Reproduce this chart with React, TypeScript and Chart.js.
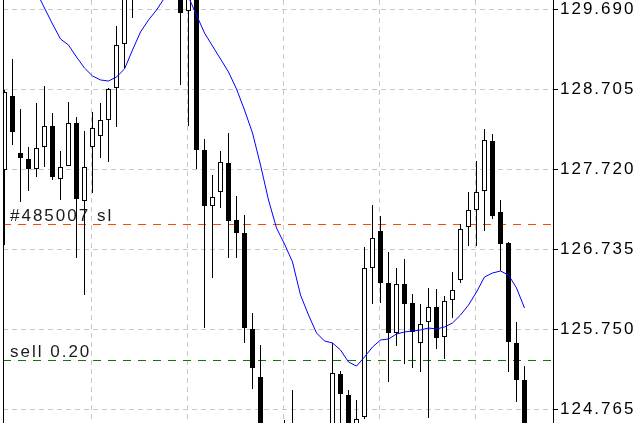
import React, { useEffect, useRef } from "react";
import { Chart, registerables } from "chart.js";

Chart.register(...registerables);

// ---- data (price values) ----
const openPrices = [
  127.712, 128.623, 127.921, 127.847, 127.724, 127.995, 128.253, 127.601, 127.761, 128.29,
  127.33, 127.995, 128.13, 128.327, 128.721, 129.263, 130.2, 129.95, 130.3, 130.55,
  130.35, 130.1, 129.95, 129.669, 129.9, 127.958, 127.268, 127.441, 127.798, 127.096,
  126.936, 125.754, 125.163, 124.45, 124.3, 124.4, 124.55, 124.45, 124.35, 124.48,
  124.4, 124.5, 125.2, 124.941, 124.5, 124.67, 126.505, 126.96, 126.32, 125.705,
  126.308, 126.074, 125.582, 125.84, 126.025, 125.655, 126.111, 126.357, 127.01, 127.219,
  127.453, 128.069, 127.194, 126.813, 125.582, 125.126,
];
const highPrices = [
  128.696, 129.078, 128.463, 127.995, 128.536, 128.746, 128.413, 127.945, 128.549, 128.364,
  128.192, 128.426, 128.536, 128.721, 129.484, 130.15, 130.25, 130.4, 130.7, 130.8,
  130.6, 130.35, 130.1, 130.0, 130.0, 128.093, 127.65, 127.945, 128.167, 127.391,
  127.157, 125.951, 125.557, 124.55, 124.5, 124.634, 125.003, 124.55, 124.55, 124.55,
  124.55, 125.582, 125.237, 125.003, 124.88, 126.763, 127.281, 127.145, 126.702, 126.505,
  126.616, 126.185, 126.062, 126.259, 126.246, 126.16, 126.456, 127.047, 127.441, 127.822,
  128.216, 128.155, 127.342, 126.825, 125.84, 125.298,
];
const lowPrices = [
  126.788, 128.019, 127.318, 127.453, 127.625, 127.748, 127.588, 127.342, 127.761, 126.628,
  126.172, 127.428, 127.859, 127.81, 128.241, 128.967, 129.583, 129.85, 130.15, 130.25,
  130.0, 129.88, 128.758, 128.253, 127.724, 125.766, 126.382, 127.244, 126.628, 126.628,
  125.582, 125.015, 124.35, 124.2, 124.15, 124.3, 124.35, 124.25, 124.2, 124.3,
  124.28, 124.4, 124.55, 124.45, 124.4, 124.646, 126.062, 126.074, 125.101, 125.545,
  125.323, 125.274, 125.224, 124.658, 125.508, 125.385, 125.889, 126.32, 126.776, 126.776,
  126.96, 127.108, 126.468, 125.224, 124.855, 124.4,
];
const closePrices = [
  128.672, 128.179, 127.859, 127.724, 127.982, 128.253, 127.625, 127.748, 128.29, 127.354,
  127.748, 128.229, 128.327, 128.709, 129.25, 130.05, 129.95, 130.3, 130.55, 130.35,
  130.1, 130.25, 129.644, 129.92, 127.958, 127.268, 127.379, 127.81, 127.084, 126.936,
  125.766, 125.274, 124.45, 124.3, 124.4, 124.5, 124.45, 124.35, 124.48, 124.4,
  124.52, 125.212, 124.954, 124.55, 124.646, 126.505, 126.874, 126.32, 125.705, 126.308,
  126.062, 125.717, 125.815, 126.025, 125.643, 126.099, 126.234, 126.985, 127.219, 127.441,
  128.081, 127.145, 126.8, 125.594, 125.126, 124.5,
];
const maValues = [
  130.1, 130.05, 130.0, 129.95, 129.903, 129.706, 129.509, 129.324, 129.25, 129.103,
  128.967, 128.869, 128.82, 128.807, 128.857, 128.955, 129.189, 129.411, 129.558, 129.681,
  129.829, 129.989, 129.989, 129.841, 129.62, 129.398, 129.238, 129.078, 128.918, 128.709,
  128.45, 128.167, 127.773, 127.342, 126.997, 126.8, 126.579, 126.172, 125.926, 125.705,
  125.606, 125.582, 125.495, 125.348, 125.298, 125.409, 125.532, 125.618, 125.631, 125.692,
  125.717, 125.729, 125.742, 125.766, 125.754, 125.779, 125.828, 125.926, 126.049, 126.209,
  126.394, 126.443, 126.468, 126.419, 126.259, 126.012,
];
const barIndex = openPrices.map((_, i) => i);

const priceTicks = [124.765, 125.75, 126.735, 127.72, 128.705, 129.69];
const priceMin = 124.5964;
const priceMax = 129.8045;
const barMin = -0.1875;
const barMax = 68.5625;
const gridBars = [4.875, 16.875, 28.875, 40.875, 52.875, 64.875];

const slPrice = 127.0404;
const slLabel = "#485007 sl";
const sellPrice = 125.3659;
const sellLabel = "sell 0.20";

const FONT = '"Liberation Sans", Arial, Helvetica, sans-serif';
const GRID = "#c8c8c8";

const spacingPlugin = {
  id: "spacing",
  beforeDraw(chart: any) {
    chart.ctx.letterSpacing = "2px";
  },
};

const labelPlugin = {
  id: "orderLabels",
  beforeDatasetsDraw(chart: any) {
    const { ctx, chartArea, scales } = chart;
    const y = scales.y;
    ctx.save();
    ctx.font = `17px ${FONT}`;
    ctx.letterSpacing = "2px";
    ctx.fillStyle = "#1a1a1a";
    ctx.textAlign = "left";
    ctx.textBaseline = "alphabetic";
    ctx.fillText(slLabel, chartArea.left + 7, y.getPixelForValue(slPrice) - 3.5);
    ctx.fillText(sellLabel, chartArea.left + 7, y.getPixelForValue(sellPrice) - 4);
    ctx.restore();
  },
};

export default function App() {
  const ref = useRef<HTMLCanvasElement | null>(null);

  useEffect(() => {
    if (!ref.current) return;
    const chart = new Chart(ref.current, {
      type: "bar",
      data: {
        datasets: [
          {
            type: "line",
            label: "sl",
            data: [
              { x: barMin, y: slPrice },
              { x: barMax, y: slPrice },
            ],
            borderColor: "#ff4500",
            borderWidth: 1,
            borderDash: [8, 7],
            pointRadius: 0,
            order: 5,
          } as any,
          {
            type: "line",
            label: "sell",
            data: [
              { x: barMin, y: sellPrice },
              { x: barMax, y: sellPrice },
            ],
            borderColor: "#008000",
            borderWidth: 1,
            borderDash: [8, 7],
            pointRadius: 0,
            order: 5,
          } as any,
          {
            type: "bar",
            label: "wick",
            data: barIndex.map((i) => ({ x: i, y: [lowPrices[i], highPrices[i]] })),
            backgroundColor: "#000",
            borderWidth: 0,
            barThickness: 1,
            grouped: false,
            inflateAmount: 0,
            clip: 0,
            order: 3,
          } as any,
          {
            type: "bar",
            label: "body",
            data: barIndex.map((i) => ({ x: i, y: [openPrices[i], closePrices[i]] })),
            backgroundColor: barIndex.map((i) => (closePrices[i] > openPrices[i] ? "#fff" : "#000")),
            borderColor: "#000",
            borderWidth: 1,
            borderSkipped: false,
            barThickness: 5,
            grouped: false,
            inflateAmount: 0,
            clip: 0,
            order: 2,
          } as any,
          {
            type: "line",
            label: "MA",
            data: barIndex.map((i) => ({ x: i, y: maValues[i] })),
            borderColor: "#0000ff",
            borderWidth: 1,
            pointRadius: 0,
            tension: 0,
            order: 1,
          } as any,
        ],
      },
      options: {
        responsive: false,
        animation: false,
        events: [],
        layout: { padding: 0, autoPadding: false },
        plugins: { legend: { display: false }, tooltip: { enabled: false } },
        scales: {
          x: {
            type: "linear",
            min: barMin,
            max: barMax,
            offset: false,
            afterBuildTicks: (s: any) => {
              s.ticks = gridBars.map((v) => ({ value: v }));
            },
            afterFit: (s: any) => {
              s.height = 0;
            },
            ticks: { display: false },
            grid: { color: GRID, lineWidth: 1, drawTicks: false },
            border: { display: false, dash: [5, 4] },
          },
          yL: {
            type: "linear",
            position: "left",
            min: priceMin,
            max: priceMax,
            afterFit: (s: any) => {
              s.width = 3;
            },
            ticks: { display: false },
            grid: { drawOnChartArea: false, drawTicks: false },
            border: { display: true, color: "#000", width: 1, z: 1 },
          },
          y: {
            type: "linear",
            position: "right",
            min: priceMin,
            max: priceMax,
            afterBuildTicks: (s: any) => {
              s.ticks = priceTicks.map((v) => ({ value: v }));
            },
            afterFit: (s: any) => {
              s.width = 87;
              s.paddingTop = 0;
              s.paddingBottom = 0;
            },
            ticks: {
              color: "#000",
              padding: 2,
              autoSkip: false,
              font: { size: 17, family: FONT },
              callback: (v: any) => Number(v).toFixed(3),
            },
            grid: {
              color: GRID,
              lineWidth: 1,
              drawTicks: true,
              tickLength: 5,
              tickColor: "#000",
              tickBorderDash: [],
            },
            border: { display: true, color: "#000", width: 1, dash: [5, 4] },
          },
        },
      } as any,
      plugins: [spacingPlugin, labelPlugin],
    });
    return () => chart.destroy();
  }, []);

  return (
    <div style={{ position: "fixed", left: 0, top: 0, width: 640, height: 423, background: "#fff" }}>
      <canvas ref={ref} width={640} height={423} style={{ display: "block" }} />
    </div>
  );
}
